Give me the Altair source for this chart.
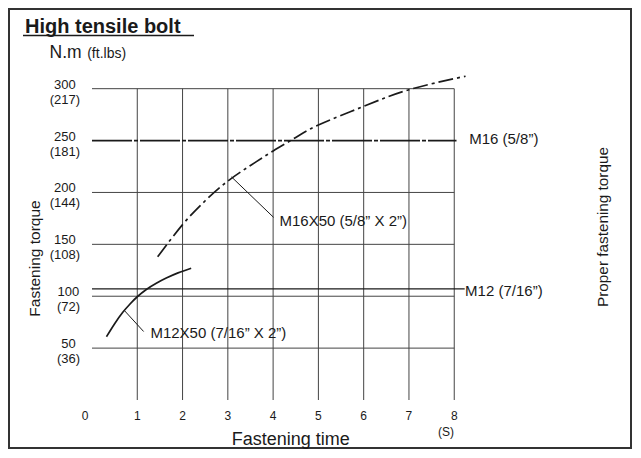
import altair as alt
import pandas as pd

# ---------------- data ----------------
nm_ticks = [50, 100, 150, 200, 250, 300]
ftlb_ticks = [36, 72, 108, 144, 181, 217]
x_ticks = [1, 2, 3, 4, 5, 6, 7, 8]
grid_x = [1, 2, 3, 4, 5, 6, 7, 8]
grid_y = [50, 100, 150, 200, 300]

m16x50_t = [1.45, 2.0, 2.5, 3.0, 3.5, 4.0, 4.5, 5.0, 6.0, 7.0, 8.25]
m16x50_v = [138, 169, 192, 211, 226, 240, 253, 265, 283, 299, 312]
m12x50_t = [0.32, 0.5, 0.68, 0.85, 1.0, 1.2, 1.42, 1.64, 1.9, 2.19]
m12x50_v = [61, 73.5, 84.5, 93, 99.5, 106.5, 112.5, 117.5, 122.5, 127]

ref_names = ["M16 (5/8\u201d)", "M12 (7/16\u201d)"]
ref_values = [250, 107]
ref_end = [8.05, 8.23]
ref_label_t = [8.33, 8.24]
ref_label_v = [247, 100]

curve_names = ["M16X50 (5/8\u201d X 2\u201d)", "M12X50 (7/16\u201d X 2\u201d)"]
leader_from_t = [3.08, 0.72]
leader_from_v = [215, 86]
leader_to_t = [4.01, 1.14]
leader_to_v = [176, 66]
label_t = [4.14, 1.29]
label_v = [168, 60]

FONT = "Liberation Sans"
INK = "#1a1a1a"
LINE = "#333333"

xs = alt.Scale(domain=[0, 8.37], nice=False, zero=False)
ys = alt.Scale(domain=[0, 318], nice=False, zero=False)

one = pd.DataFrame({"k": [0]})

# ---------------- layers ----------------
axes = alt.Chart(one).mark_point(opacity=0).encode(
    x=alt.X("k:Q", scale=xs, axis=alt.Axis(domain=True, ticks=False, labels=False, grid=False,
                                            title=None, domainColor=LINE, domainWidth=2)),
    y=alt.Y("k:Q", scale=ys, axis=alt.Axis(domain=True, ticks=False, labels=False, grid=False,
                                            title=None, domainColor=LINE, domainWidth=2)),
)

gx = pd.DataFrame({"x": grid_x, "y0": [0] * len(grid_x), "y1": [300] * len(grid_x)})
vgrid = alt.Chart(gx).mark_rule(color="#444444", strokeWidth=1).encode(
    x=alt.X("x:Q", scale=xs, axis=None),
    y=alt.Y("y0:Q", scale=ys, axis=None), y2="y1:Q")

gy = pd.DataFrame({"y": grid_y, "x0": [0] * len(grid_y), "x1": [8] * len(grid_y)})
hgrid = alt.Chart(gy).mark_rule(color="#444444", strokeWidth=1).encode(
    y=alt.Y("y:Q", scale=ys, axis=None),
    x=alt.X("x0:Q", scale=xs, axis=None), x2="x1:Q")

refdf = pd.DataFrame({"name": ref_names, "v": ref_values, "x0": [0, 0], "x1": ref_end,
                      "lt": ref_label_t, "lv": ref_label_v})
m16line = alt.Chart(refdf.iloc[[0]]).mark_rule(color=INK, strokeWidth=1.8,
                                               strokeDash=[40, 2, 4, 2]).encode(
    y=alt.Y("v:Q", scale=ys, axis=None),
    x=alt.X("x0:Q", scale=xs, axis=None), x2="x1:Q")
m12line = alt.Chart(refdf.iloc[[1]]).mark_rule(color=INK, strokeWidth=1.3).encode(
    y=alt.Y("v:Q", scale=ys, axis=None),
    x=alt.X("x0:Q", scale=xs, axis=None), x2="x1:Q")
reflabels = alt.Chart(refdf).mark_text(font=FONT, fontSize=15, color=INK, align="left",
                                       baseline="alphabetic").encode(
    x=alt.X("lt:Q", scale=xs, axis=None),
    y=alt.Y("lv:Q", scale=ys, axis=None),
    text="name:N")

c16 = pd.DataFrame({"t": m16x50_t, "v": m16x50_v})
curve16 = alt.Chart(c16).mark_line(color=INK, strokeWidth=1.7, strokeDash=[15, 4, 3, 4],
                                   interpolate="natural").encode(
    x=alt.X("t:Q", scale=xs, axis=None), y=alt.Y("v:Q", scale=ys, axis=None))
c12 = pd.DataFrame({"t": m12x50_t, "v": m12x50_v})
curve12 = alt.Chart(c12).mark_line(color=INK, strokeWidth=1.7,
                                   interpolate="natural").encode(
    x=alt.X("t:Q", scale=xs, axis=None), y=alt.Y("v:Q", scale=ys, axis=None))

ldf = pd.DataFrame({"name": curve_names, "t0": leader_from_t, "v0": leader_from_v,
                    "t1": leader_to_t, "v1": leader_to_v, "lt": label_t, "lv": label_v})
leaders = alt.Chart(ldf).mark_rule(color=INK, strokeWidth=1).encode(
    x=alt.X("t0:Q", scale=xs, axis=None), y=alt.Y("v0:Q", scale=ys, axis=None),
    x2="t1:Q", y2="v1:Q")
curvelabels = alt.Chart(ldf).mark_text(font=FONT, fontSize=15, color=INK, align="left",
                                       baseline="alphabetic").encode(
    x=alt.X("lt:Q", scale=xs, axis=None), y=alt.Y("lv:Q", scale=ys, axis=None),
    text="name:N")

# y tick labels (two lines: N.m above, (ft.lbs) below), paren line right-aligned
TS = 13.0
DIG = 0.556 * TS
PAR = 0.333 * TS
yt = pd.DataFrame({"nm": nm_ticks, "ft": ftlb_ticks})
yt["nm_s"] = yt["nm"].astype(str)
yt["ft_s"] = "(" + yt["ft"].astype(str) + ")"
yt["px_ft"] = -12.0
yt["px_nm"] = -12.0 - ((yt["ft"].astype(str).str.len() * DIG + 2 * PAR)
                       - yt["nm_s"].str.len() * DIG) / 2.0
ynum = alt.Chart(yt).mark_text(font=FONT, fontSize=TS, color=INK, align="right",
                               baseline="alphabetic").encode(
    x=alt.X("px_nm:Q", scale=None), y=alt.Y("nm:Q", scale=ys, axis=None), text="nm_s:N")
yft = alt.Chart(yt).mark_text(font=FONT, fontSize=TS, color=INK, align="right",
                              baseline="alphabetic", dy=15).encode(
    x=alt.X("px_ft:Q", scale=None), y=alt.Y("nm:Q", scale=ys, axis=None), text="ft_s:N")

xt = pd.DataFrame({"t": x_ticks, "s": [str(v) for v in x_ticks]})
xlab = alt.Chart(xt).mark_text(font=FONT, fontSize=12, color=INK, align="center",
                               baseline="alphabetic").encode(
    x=alt.X("t:Q", scale=xs, axis=None), y=alt.value(350), text="s:N")
x0df = pd.DataFrame({"t": [0], "s": ["0"]})
xlab0 = alt.Chart(x0df).mark_text(font=FONT, fontSize=12, color=INK, align="center",
                                  baseline="alphabetic", dx=-7).encode(
    x=alt.X("t:Q", scale=xs, axis=None), y=alt.value(350), text="s:N")


def label(txt, x, y, size, **kw):
    return alt.Chart(one).mark_text(font=FONT, fontSize=size, color=INK, **kw).encode(
        x=alt.value(x), y=alt.value(y), text=alt.value(txt))


title = label("High tensile bolt", -67, -37, 20, fontWeight="bold", align="left",
              baseline="alphabetic")
underline = alt.Chart(one).mark_rule(color=INK, strokeWidth=1.6).encode(
    x=alt.value(-69), x2=alt.value(102), y=alt.value(-34.5))
unit1 = label("N.m", -42.5, -11.7, 17.5, align="left", baseline="alphabetic")
unit2 = label("(ft.lbs)", -4.8, -11.7, 14, align="left", baseline="alphabetic")
ytitle = label("Fastening torque", -57, 188.5, 15.5, angle=270, align="center",
               baseline="middle")
xtitle = label("Fastening time", 198.7, 375, 18, align="center", baseline="alphabetic")
sunit = label("(S)", 354, 366, 12, align="center", baseline="alphabetic")
rtitle = label("Proper fastening torque", 511, 157, 15.3, angle=270, align="center",
               baseline="middle")

frame = alt.Chart(one).mark_rect(fillOpacity=0, stroke="#333333", strokeWidth=2).encode(
    x=alt.value(-83), x2=alt.value(539), y=alt.value(-61), y2=alt.value(378))

chart = alt.layer(
    frame, vgrid, hgrid, axes, m12line, m16line, curve16, curve12, leaders,
    reflabels, curvelabels, ynum, yft, xlab, xlab0,
    title, underline, unit1, unit2, ytitle, xtitle, sunit, rtitle,
).properties(
    width=379, height=330,
    padding={"left": 84, "top": 62, "right": 162, "bottom": 50},
    autosize=alt.AutoSizeParams(type="none"),
    background="white",
).configure_view(stroke=None)

chart.save("out.html", embed_options={"renderer": "svg", "actions": False})
